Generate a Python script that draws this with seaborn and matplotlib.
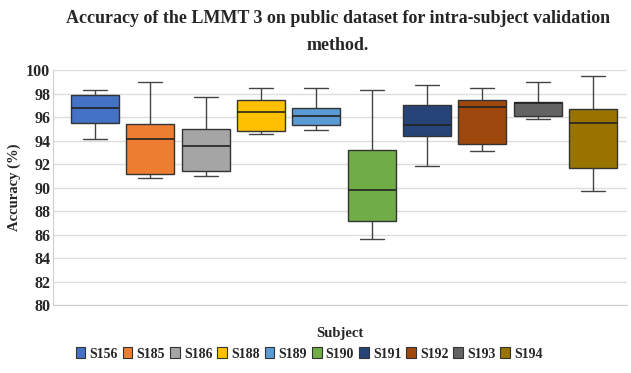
import numpy as np
import pandas as pd
import matplotlib
matplotlib.use("Agg")
import matplotlib.pyplot as plt
import matplotlib.patches as mpatches
import seaborn as sns

# Box summary: min, q1, median, q3, max
subjects = ['S156', 'S185', 'S186', 'S188', 'S189', 'S190', 'S191', 'S192', 'S193', 'S194']
mins = [94.1, 90.8, 91.0, 94.55, 94.9, 85.6, 91.8, 93.1, 95.8, 89.75]
q1s = [95.5, 91.2, 91.4, 94.8, 95.3, 87.15, 94.4, 93.7, 96.1, 91.7]
medians = [96.8, 94.1, 93.5, 96.4, 96.1, 89.8, 95.3, 96.85, 97.2, 95.5]
q3s = [97.9, 95.45, 94.95, 97.45, 96.8, 93.2, 97.0, 97.45, 97.3, 96.65]
maxs = [98.3, 99.0, 97.7, 98.5, 98.5, 98.3, 98.7, 98.5, 98.95, 99.5]
colors = ['#4472C4', '#ED7D31', '#A5A5A5', '#FFC000', '#5B9BD5',
          '#70AD47', '#264478', '#9E480E', '#636363', '#997300']

rows = []
for i, s in enumerate(subjects):
    for v in (mins[i], q1s[i], medians[i], q3s[i], maxs[i]):
        rows.append({'Subject': s, 'Accuracy': v})
df = pd.DataFrame(rows)

sns.set_style("whitegrid")
plt.rcParams['font.family'] = ['Liberation Serif', 'DejaVu Serif']
plt.rcParams['font.weight'] = 'bold'

fig = plt.figure(figsize=(6.31, 3.73), dpi=100)
ax = fig.add_axes([0.084, 0.182, 0.91, 0.63])

sns.boxplot(data=df, x='Subject', y='Accuracy', hue='Subject', palette=colors,
            order=subjects, hue_order=subjects, dodge=False, whis=(0, 100),
            width=0.87, linewidth=1.0, legend=False, saturation=1, ax=ax,
            boxprops=dict(edgecolor='#333333'),
            medianprops=dict(color='#222222', linewidth=1.2),
            whiskerprops=dict(color='#444444'),
            capprops=dict(color='#444444'))

ax.set_ylim(80, 100)
ax.set_yticks(np.arange(80, 101, 2))
ax.set_xlim(-0.76, 9.62)
ax.set_xticks([])
ax.grid(axis='y', color='#dddddd', linewidth=1)
ax.grid(axis='x', visible=False)
for side in ['top', 'right']:
    ax.spines[side].set_visible(False)
ax.spines['left'].set_color('#d0d0d0')
ax.spines['bottom'].set_color('#d0d0d0')
ax.tick_params(axis='y', labelsize=11.5, pad=2, length=0)
for lbl in ax.get_yticklabels():
    lbl.set_fontweight('bold')

ax.set_ylabel('Accuracy (%)', fontsize=10.5, fontweight='bold')
ax.set_xlabel('Subject', fontsize=10.5, fontweight='bold', labelpad=16)

fig.text(0.535, 0.973, 'Accuracy of the LMMT 3 on public dataset for intra-subject validation\nmethod.',
         ha='center', va='top', fontsize=13, fontweight='bold', linespacing=1.75)

handles = [mpatches.Patch(facecolor=c, edgecolor='#333333', linewidth=0.8, label=s)
           for s, c in zip(subjects, colors)]
fig.legend(handles=handles, loc='lower center', ncol=10, frameon=False,
           bbox_to_anchor=(0.49, 0.0), handlelength=0.7,
           handleheight=0.8, handletextpad=0.3, columnspacing=0.35,
           prop={'weight': 'bold', 'size': 10})

fig.savefig('out.png', dpi=100)
